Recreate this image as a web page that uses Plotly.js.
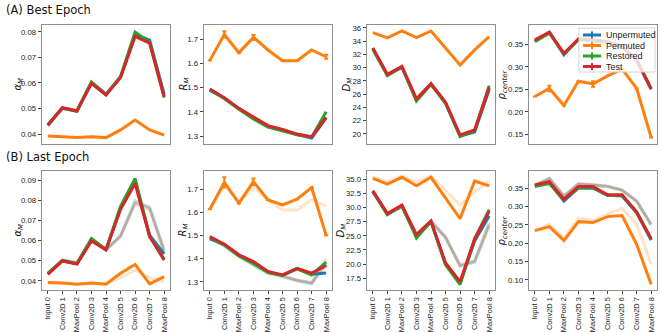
<!DOCTYPE html>
<html><head><meta charset="utf-8">
<script src="https://cdn.plot.ly/plotly-3.0.1.min.js"></script>
<style>html,body{margin:0;padding:0;background:#fff}#chart{width:664px;height:332px}</style>
</head><body><div id="chart"></div>
<script>
const layers = ["Input 0","Conv2D 1","MaxPool 2","Conv2D 3","MaxPool 4","Conv2D 5","Conv2D 6","Conv2D 7","MaxPool 8"];
const seriesNames = ["Unpermuted","Permuted","Restored","Test"];
const seriesColors = ["#1f77b4","#ff7f0e","#2ca02c","#d62728"];

// (A) Best epoch
const bestAlphaUnperm = [0.0433,0.0501,0.0489,0.0600,0.0553,0.0622,0.0790,0.0768,0.0555];
const bestAlphaPerm   = [0.0392,0.0390,0.0386,0.0389,0.0386,0.0416,0.0455,0.0416,0.0396];
const bestAlphaRest   = [0.0437,0.0502,0.0491,0.0604,0.0556,0.0625,0.0799,0.0760,0.0543];
const bestAlphaTest   = [0.0435,0.0503,0.0490,0.0599,0.0553,0.0621,0.0782,0.0756,0.0546];

const bestRUnperm = [1.488,1.456,1.412,1.374,1.340,1.325,1.306,1.292,1.375];
const bestRPerm   = [1.612,1.719,1.644,1.707,1.655,1.611,1.611,1.655,1.627];
const bestRRest   = [1.492,1.455,1.410,1.370,1.337,1.322,1.305,1.295,1.400];
const bestRTest   = [1.494,1.458,1.414,1.377,1.343,1.327,1.308,1.297,1.377];
const bestRPermErr = [0,0.013,0,0.010,0,0,0,0,0.008];

const bestDUnperm = [32.9,28.9,30.1,25.1,27.5,24.7,19.7,20.3,26.7];
const bestDPerm   = [35.3,34.5,35.55,34.55,35.55,33.0,30.4,32.7,34.7];
const bestDRest   = [32.8,28.8,30.1,25.0,27.5,24.6,19.6,20.5,27.3];
const bestDTest   = [33.0,29.0,30.2,25.3,27.6,24.8,19.85,20.6,27.0];

const bestRhoUnperm = [0.357,0.377,0.327,0.362,0.359,0.355,0.345,0.314,0.250];
const bestRhoPerm   = [0.234,0.252,0.214,0.268,0.262,0.280,0.295,0.252,0.143];
const bestRhoRest   = [0.356,0.375,0.329,0.360,0.358,0.354,0.344,0.316,0.252];
const bestRhoTest   = [0.360,0.377,0.330,0.362,0.360,0.356,0.345,0.315,0.251];
const bestRhoPermErr = [0,0.006,0,0,0.006,0,0,0,0];

// (B) Last epoch
const lastAlphaUnperm = [0.0435,0.0500,0.0485,0.0603,0.0555,0.0760,0.0893,0.0627,0.0534];
const lastAlphaPerm   = [0.0392,0.0390,0.0384,0.0390,0.0384,0.0438,0.0482,0.0385,0.0421];
const lastAlphaRest   = [0.0437,0.0502,0.0486,0.0611,0.0556,0.0770,0.0908,0.0622,0.0502];
const lastAlphaTest   = [0.0433,0.0499,0.0483,0.0598,0.0554,0.0755,0.0883,0.0619,0.0507];

const lastRUnperm = [1.486,1.462,1.415,1.384,1.342,1.329,1.357,1.333,1.338];
const lastRPerm   = [1.614,1.730,1.640,1.733,1.654,1.633,1.657,1.707,1.500];
const lastRRest   = [1.490,1.460,1.412,1.380,1.340,1.328,1.356,1.330,1.385];
const lastRTest   = [1.496,1.463,1.417,1.388,1.345,1.330,1.359,1.338,1.371];
const lastRPermErr = [0,0.022,0,0.014,0,0,0,0,0];

const lastDUnperm = [32.8,28.8,30.3,24.9,27.5,20.0,16.7,24.1,28.5];
const lastDPerm   = [35.1,34.1,35.3,33.8,35.3,31.6,28.0,34.65,33.8];
const lastDRest   = [32.8,28.7,30.3,24.6,27.5,19.9,16.4,24.5,29.6];
const lastDTest   = [32.9,28.9,30.4,25.2,27.6,20.2,16.9,24.4,29.3];

const lastRhoUnperm = [0.357,0.366,0.315,0.351,0.350,0.331,0.329,0.283,0.209];
const lastRhoPerm   = [0.2345,0.2455,0.2073,0.259,0.2564,0.2727,0.2755,0.1973,0.088];
const lastRhoRest   = [0.3545,0.363,0.318,0.352,0.353,0.330,0.330,0.286,0.212];
const lastRhoTest   = [0.359,0.368,0.320,0.3545,0.3545,0.332,0.332,0.2845,0.2118];

const bestSets = [
  [bestAlphaUnperm,bestAlphaPerm,bestAlphaRest,bestAlphaTest],
  [bestRUnperm,bestRPerm,bestRRest,bestRTest],
  [bestDUnperm,bestDPerm,bestDRest,bestDTest],
  [bestRhoUnperm,bestRhoPerm,bestRhoRest,bestRhoTest]
];
const lastSets = [
  [lastAlphaUnperm,lastAlphaPerm,lastAlphaRest,lastAlphaTest],
  [lastRUnperm,lastRPerm,lastRRest,lastRTest],
  [lastDUnperm,lastDPerm,lastDRest,lastDTest],
  [lastRhoUnperm,lastRhoPerm,lastRhoRest,lastRhoTest]
];
const permErr = {best:[null,bestRPermErr,null,bestRhoPermErr], last:[null,lastRPermErr,null,null]};

const W=664,H=332;
const FONT="DejaVu Sans, sans-serif";
const TFONT="Liberation Sans, Arial, sans-serif";
const colPx = [[42,170],[204,332],[367,495],[529,657]];
const rowPx = [[25,144],[171,290]];
const yTitles = ["<i>α<sub>M</sub></i>","<i>R<sub>M</sub></i>","<i>D<sub>M</sub></i>","<i>ρ<sub>center</sub></i>"];
const yTitleX = [[18,184,347,502],[18,183,341,502]];
const yRanges = [
  [[0.0361,0.0827],[1.267,1.758],[18.49,36.45],[0.1285,0.393]],
  [[0.0355,0.0945],[1.265,1.779],[15.45,36.41],[0.0727,0.397]]
];
const yTicks = [
  [[0.04,0.05,0.06,0.07,0.08],[1.3,1.4,1.5,1.6,1.7],[20,22,24,26,28,30,32,34,36],[0.15,0.20,0.25,0.30,0.35]],
  [[0.04,0.05,0.06,0.07,0.08,0.09],[1.3,1.4,1.5,1.6,1.7],[17.5,20,22.5,25,27.5,30,32.5,35],[0.10,0.15,0.20,0.25,0.30,0.35]]
];
const yFmt = [[".2f",".1f","d",".2f"],[".2f",".1f",".1f",".2f"]];
const YTICK=7.8, XTICK=7.4;

const traces=[];
const shapes=[];
const annotations=[
  {text:"(A) Best Epoch",xref:"paper",yref:"paper",x:4/W,y:1-10/H,xanchor:"left",yanchor:"middle",showarrow:false,font:{family:FONT,size:11.5,color:"#111"}},
  {text:"(B) Last Epoch",xref:"paper",yref:"paper",x:4/W,y:1-157/H,xanchor:"left",yanchor:"middle",showarrow:false,font:{family:FONT,size:11.5,color:"#111"}}
];
const layout={
  width:W,height:H,margin:{l:0,r:0,t:0,b:0},
  paper_bgcolor:"#fff",plot_bgcolor:"#fff",
  font:{family:TFONT,size:YTICK,color:"#222"},
  showlegend:false,shapes:shapes,annotations:annotations
};

for(let r=0;r<2;r++){
  for(let c=0;c<4;c++){
    const idx=r*4+c+1;
    const xa="x"+(idx===1?"":idx), ya="y"+(idx===1?"":idx);
    const xk="xaxis"+(idx===1?"":idx), yk="yaxis"+(idx===1?"":idx);
    layout[xk]={domain:[colPx[c][0]/W,colPx[c][1]/W],anchor:ya,range:[-0.4,8.4],
      type:"linear",tickvals:layers.map((_,i)=>i),ticktext:layers,
      showticklabels:r===1,ticks:r===1?"outside":"",ticklen:3,tickcolor:"#444",tickangle:-90,
      showgrid:false,zeroline:false,showline:true,mirror:true,linecolor:"#8f8f8f",linewidth:1.3,
      tickfont:{family:TFONT,size:XTICK,color:"#222"}};
    layout[yk]={domain:[1-rowPx[r][1]/H,1-rowPx[r][0]/H],anchor:xa,range:yRanges[r][c],
      tickvals:yTicks[r][c],tickformat:yFmt[r][c],ticks:"outside",ticklen:3,tickcolor:"#444",
      showgrid:false,zeroline:false,showline:true,mirror:true,linecolor:"#8f8f8f",linewidth:1.3,
      tickfont:{family:TFONT,size:YTICK,color:"#222"}};
    annotations.push({text:yTitles[c],xref:"paper",yref:"paper",x:yTitleX[r][c]/W,
      y:1-(rowPx[r][0]+rowPx[r][1])/2/H,textangle:-90,showarrow:false,xanchor:"center",yanchor:"middle",
      font:{family:FONT,size:10,color:"#111"}});
    if(r===1){
      for(let s=0;s<4;s++){
        traces.push({x:layers.map((_,i)=>i),y:bestSets[c][s],xaxis:xa,yaxis:ya,mode:"lines",
          line:{color:seriesColors[s],width:3},opacity:0.22,showlegend:false,hoverinfo:"skip"});
      }
    }
    const sets = r===0?bestSets[c]:lastSets[c];
    for(let s=0;s<4;s++){
      const t={x:layers.map((_,i)=>i),y:sets[s],xaxis:xa,yaxis:ya,mode:"lines",name:seriesNames[s],
        legendgroup:seriesNames[s],line:{color:seriesColors[s],width:3}};
      const e = r===0?permErr.best[c]:permErr.last[c];
      if(s===1 && e){t.error_y={type:"data",array:e,visible:true,color:seriesColors[s],thickness:2,width:2};}
      traces.push(t);
    }
  }
}

// legend box (drawn inside the top-right panel, like the reference)
const lg={x0:579,x1:655,y0:28,y1:72};
shapes.push({type:"rect",xref:"paper",yref:"paper",x0:lg.x0/W,x1:lg.x1/W,y0:1-lg.y1/H,y1:1-lg.y0/H,
  fillcolor:"rgba(255,255,255,0.8)",line:{color:"#d4d4d4",width:1},layer:"above"});
const legendRowY=[35,45.5,56,66.5];
seriesNames.forEach((nm,i)=>{
  const yy=1-legendRowY[i]/H;
  shapes.push({type:"line",xref:"paper",yref:"paper",x0:583/W,x1:601/W,y0:yy,y1:yy,
    line:{color:seriesColors[i],width:3},layer:"above"});
  shapes.push({type:"line",xref:"paper",yref:"paper",x0:592/W,x1:592/W,y0:yy-3.5/H,y1:yy+3.5/H,
    line:{color:seriesColors[i],width:2},layer:"above"});
  annotations.push({text:nm,xref:"paper",yref:"paper",x:604/W,y:yy,xanchor:"left",yanchor:"middle",
    showarrow:false,font:{family:TFONT,size:9,color:"#222"}});
});

Plotly.newPlot("chart",traces,layout,{staticPlot:true});
</script></body></html>
